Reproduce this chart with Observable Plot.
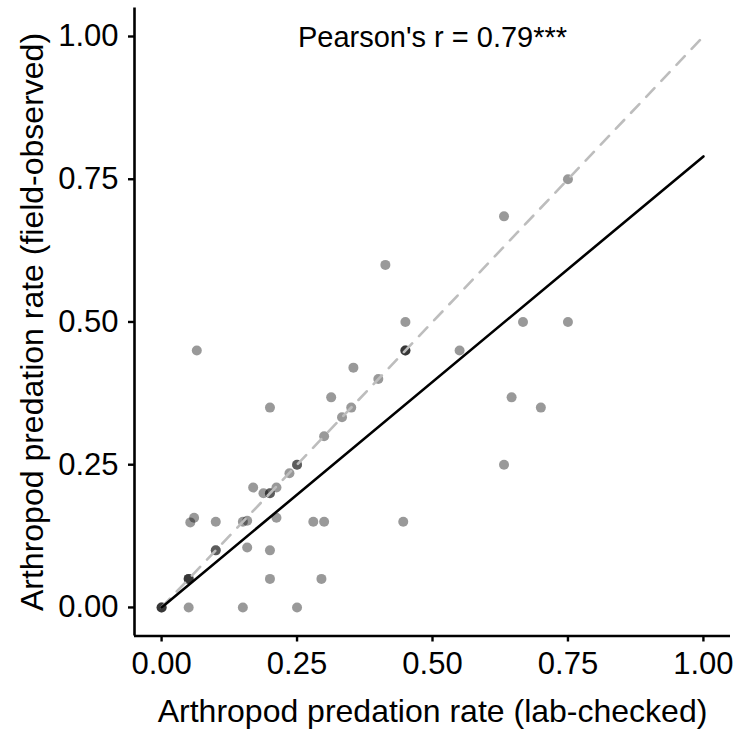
<!DOCTYPE html>
<html>
<head>
<meta charset="utf-8">
<script src="https://cdn.jsdelivr.net/npm/d3@7"></script>
<script src="https://cdn.jsdelivr.net/npm/@observablehq/plot@0.6"></script>
<style>
  html, body { margin: 0; padding: 0; background: #fff; }
  #chart svg { display: block; font-family: "Liberation Sans", Arial, sans-serif; }
</style>
</head>
<body>
<div id="chart"></div>
<script>
// Lab-checked (x) vs field-observed (y) arthropod predation rates
const labChecked = [
  0, 0, 0, 0.05, 0.15, 0.25,
  0.05, 0.05, 0.05, 0.20, 0.295,
  0.10, 0.10, 0.158, 0.20,
  0.053, 0.06, 0.10, 0.15, 0.158, 0.212, 0.28, 0.30, 0.446,
  0.169, 0.188, 0.20, 0.20, 0.212, 0.236, 0.25, 0.25,
  0.30, 0.333, 0.35, 0.313, 0.354, 0.40, 0.20, 0.065,
  0.45, 0.45, 0.45, 0.45, 0.55, 0.413,
  0.632, 0.646, 0.70, 0.667, 0.75, 0.632, 0.75
];
const fieldObserved = [
  0, 0, 0, 0, 0, 0,
  0.05, 0.05, 0.05, 0.05, 0.05,
  0.10, 0.10, 0.105, 0.10,
  0.149, 0.157, 0.15, 0.15, 0.152, 0.157, 0.15, 0.15, 0.15,
  0.21, 0.20, 0.20, 0.20, 0.21, 0.235, 0.25, 0.25,
  0.30, 0.333, 0.35, 0.368, 0.42, 0.40, 0.35, 0.45,
  0.45, 0.45, 0.45, 0.50, 0.45, 0.60,
  0.25, 0.368, 0.35, 0.50, 0.50, 0.685, 0.75
];
const fitX = [0, 1];
const fitY = [0, 0.79];
const refX = [0, 1];
const refY = [0, 1];
const tickValues = [0, 0.25, 0.5, 0.75, 1];
const annotation = "Pearson's r = 0.79***";
const xTitle = "Arthropod predation rate (lab-checked)";
const yTitle = "Arthropod predation rate (field-observed)";

const points = labChecked.map((x, i) => ({x, y: fieldObserved[i]}));
const fit = fitX.map((x, i) => ({x, y: fitY[i]}));
const ref = refX.map((x, i) => ({x, y: refY[i]}));

const chart = Plot.plot({
  width: 738,
  height: 733,
  marginLeft: 134,
  marginRight: 8,
  marginTop: 7.45,
  marginBottom: 97.5,
  style: {fontFamily: "'Liberation Sans', Arial, sans-serif", background: "#fff", color: "#000"},
  x: {domain: [-0.05, 1.05]},
  y: {domain: [-0.05, 1.05]},
  marks: [
    Plot.dot(points, {x: "x", y: "y", r: 5, fill: "#000", fillOpacity: 0.4, stroke: "none"}),
    Plot.line(ref, {x: "x", y: "y", stroke: "#bdbdbd", strokeWidth: 2.6, strokeDasharray: "12,10"}),
    Plot.line(fit, {x: "x", y: "y", stroke: "#000", strokeWidth: 2.6}),
    Plot.ruleX([-0.05], {stroke: "#000", strokeWidth: 2.6}),
    Plot.ruleY([-0.05], {stroke: "#000", strokeWidth: 2.6}),
    Plot.axisX({ticks: tickValues, tickFormat: d3.format(".2f"), tickSize: 6, tickPadding: 10, fontSize: 31, label: null, strokeWidth: 2.4}),
    Plot.axisY({ticks: tickValues, tickFormat: d3.format(".2f"), tickSize: 6, tickPadding: 10, fontSize: 31, label: null, strokeWidth: 2.4}),
    Plot.text([annotation], {x: 0.5, y: 1.0, text: d => d, fontSize: 29, dy: 1, fill: "#000"}),
    Plot.text([xTitle], {frameAnchor: "bottom", lineAnchor: "middle", text: d => d, fontSize: 32, dy: 76, fill: "#000"}),
    Plot.text([yTitle], {frameAnchor: "left", lineAnchor: "middle", textAnchor: "middle", text: d => d, fontSize: 32, rotate: -90, dx: -102, fill: "#000"})
  ]
});
document.getElementById("chart").appendChild(chart);
</script>
</body>
</html>
